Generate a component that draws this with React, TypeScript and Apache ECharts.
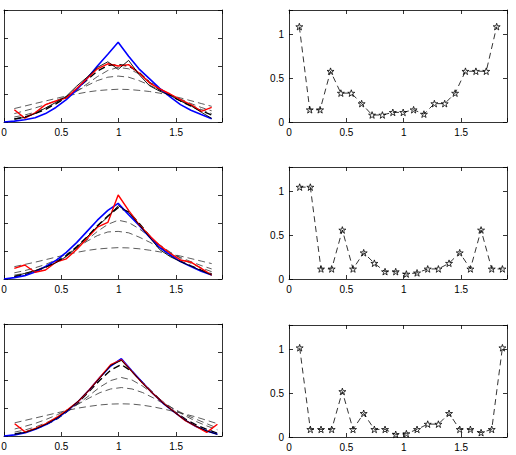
import React, { useEffect, useRef } from 'react';
import * as echarts from 'echarts';

// Interior nodes (two mesh spacings) and the same nodes with the left boundary.
const nodesA = [0.090, 0.181, 0.271, 0.362, 0.452, 0.543, 0.633, 0.724, 0.814, 0.905, 0.995, 1.086, 1.176, 1.267, 1.357, 1.448, 1.538, 1.629, 1.719, 1.810];
const nodesA0 = [0, ...nodesA];
const nodesB = [0.093, 0.186, 0.279, 0.372, 0.465, 0.558, 0.651, 0.744, 0.837, 0.930, 1.023, 1.116, 1.209, 1.302, 1.395, 1.488, 1.581, 1.674, 1.767, 1.860];
const nodesB0 = [0, ...nodesB];

const xTicks = [0, 0.5, 1, 1.5];
const errTicks = [0, 0.5, 1];

// Row 1
const exact1 = [0, 0.03, 0.08, 0.15, 0.3, 0.52, 0.8, 1.15, 1.55, 2.0, 2.42, 2.85, 2.35, 1.9, 1.55, 1.2, 0.9, 0.62, 0.42, 0.27, 0.12];
const final1 = [0.44, 0.14, 0.33, 0.62, 0.75, 0.86, 1.2, 1.55, 1.9, 2.08, 2.0, 2.05, 1.75, 1.4, 1.18, 1.0, 0.8, 0.62, 0.38, 0.52];
const iterate1 = [0.12, 0.16, 0.3, 0.5, 0.7, 0.92, 1.28, 1.6, 1.95, 2.15, 1.88, 2.2, 1.7, 1.3, 1.1, 0.95, 0.75, 0.58, 0.35, 0.13];
const stepA1 = [0.48, 0.57, 0.66, 0.75, 0.84, 0.93, 1.0, 1.07, 1.12, 1.15, 1.17, 1.16, 1.13, 1.09, 1.03, 0.95, 0.86, 0.76, 0.66, 0.56];
const stepB1 = [0.3, 0.4, 0.5, 0.62, 0.76, 0.92, 1.1, 1.3, 1.48, 1.6, 1.64, 1.6, 1.48, 1.32, 1.14, 0.97, 0.82, 0.66, 0.52, 0.4];
const stepC1 = [0.18, 0.25, 0.35, 0.5, 0.66, 0.86, 1.1, 1.36, 1.62, 1.84, 1.95, 1.9, 1.72, 1.46, 1.2, 0.98, 0.78, 0.6, 0.45, 0.3];
const stepD1 = [0.1, 0.18, 0.3, 0.45, 0.65, 0.88, 1.18, 1.5, 1.82, 2.02, 2.05, 2.0, 1.78, 1.42, 1.15, 0.95, 0.75, 0.57, 0.4, 0.25];
const error1 = [1.09, 0.14, 0.14, 0.58, 0.33, 0.33, 0.21, 0.08, 0.08, 0.11, 0.11, 0.14, 0.09, 0.21, 0.21, 0.33, 0.58, 0.58, 0.58, 1.09];

// Row 2
const exact2 = [0, 0.05, 0.12, 0.25, 0.45, 0.66, 0.95, 1.3, 1.7, 2.1, 2.45, 2.7, 2.3, 1.92, 1.5, 1.12, 0.86, 0.62, 0.45, 0.28, 0.14];
const final2 = [0.38, 0.5, 0.24, 0.32, 0.6, 0.72, 1.05, 1.45, 1.85, 2.02, 3.0, 2.45, 1.95, 1.55, 1.2, 0.92, 0.68, 0.6, 0.38, 0.14];
const iterate2 = [0.1, 0.2, 0.3, 0.42, 0.58, 0.8, 1.12, 1.5, 1.88, 2.22, 2.62, 2.38, 1.95, 1.5, 1.05, 0.8, 0.62, 0.46, 0.3, 0.14];
const stepA2 = [0.44, 0.52, 0.6, 0.69, 0.78, 0.87, 0.95, 1.02, 1.07, 1.1, 1.12, 1.11, 1.08, 1.03, 0.97, 0.9, 0.82, 0.73, 0.64, 0.55];
const stepB2 = [0.22, 0.3, 0.4, 0.52, 0.68, 0.88, 1.1, 1.35, 1.55, 1.68, 1.7, 1.65, 1.5, 1.32, 1.12, 0.94, 0.77, 0.62, 0.48, 0.36];
const stepC2 = [0.14, 0.2, 0.3, 0.45, 0.62, 0.84, 1.1, 1.4, 1.7, 1.95, 2.1, 2.02, 1.8, 1.52, 1.22, 0.96, 0.74, 0.56, 0.4, 0.26];
const stepD2 = [0.08, 0.15, 0.26, 0.42, 0.6, 0.84, 1.15, 1.5, 1.9, 2.25, 2.55, 2.4, 2.0, 1.55, 1.15, 0.85, 0.64, 0.47, 0.32, 0.18];
const error2 = [1.05, 1.05, 0.115, 0.115, 0.56, 0.115, 0.3, 0.18, 0.084, 0.084, 0.057, 0.07, 0.115, 0.115, 0.18, 0.3, 0.115, 0.56, 0.115, 0.115];

// Row 3
const exact3 = [0, 0.04, 0.12, 0.25, 0.42, 0.64, 0.92, 1.25, 1.65, 2.1, 2.5, 2.76, 2.32, 1.9, 1.5, 1.14, 0.84, 0.56, 0.34, 0.18, 0.06];
const final3 = [0.44, 0.14, 0.28, 0.45, 0.68, 0.95, 1.25, 1.65, 2.1, 2.55, 2.72, 2.3, 1.88, 1.5, 1.15, 0.85, 0.55, 0.34, 0.13, 0.42];
const iterate3 = [0.06, 0.13, 0.26, 0.43, 0.65, 0.93, 1.26, 1.65, 2.08, 2.52, 2.7, 2.3, 1.88, 1.5, 1.14, 0.84, 0.56, 0.35, 0.18, 0.06];
const stepA3 = [0.47, 0.56, 0.65, 0.74, 0.83, 0.92, 1.0, 1.06, 1.11, 1.14, 1.15, 1.14, 1.1, 1.04, 0.96, 0.87, 0.78, 0.68, 0.56, 0.44];
const stepB3 = [0.25, 0.35, 0.46, 0.6, 0.76, 0.95, 1.15, 1.36, 1.55, 1.68, 1.73, 1.68, 1.55, 1.36, 1.15, 0.95, 0.76, 0.6, 0.44, 0.28];
const stepC3 = [0.14, 0.22, 0.33, 0.48, 0.66, 0.9, 1.16, 1.45, 1.75, 1.98, 2.09, 2.0, 1.78, 1.5, 1.2, 0.94, 0.72, 0.52, 0.36, 0.22];
const stepD3 = [0.07, 0.14, 0.26, 0.42, 0.62, 0.9, 1.22, 1.6, 2.0, 2.35, 2.55, 2.3, 1.9, 1.52, 1.16, 0.86, 0.6, 0.4, 0.24, 0.1];
const error3 = [1.02, 0.087, 0.087, 0.087, 0.52, 0.087, 0.27, 0.087, 0.087, 0.03, 0.038, 0.087, 0.147, 0.147, 0.27, 0.087, 0.087, 0.05, 0.087, 1.02];

const STAR = 'path://M50,2 L61,36 L97,36 L68,57 L79,92 L50,71 L21,92 L32,57 L3,36 L39,36 Z';
const FONT = 'Liberation Sans';

const pair = (xs: number[], ys: number[]) => ys.map((y, i) => [xs[i], y]);

const onTick = (ticks: number[]) => (v: number) =>
  ticks.some((t) => Math.abs(t - v) < 1e-9) ? String(v) : '';

const line = { show: true, onZero: false, lineStyle: { color: '#000', width: 0.8 } };
const tick = { show: true, inside: true, length: 4, lineStyle: { color: '#000', width: 0.8 } };
const label = { color: '#000', fontFamily: FONT, fontSize: 10 };

function buildOption() {
  const rows = [10, 167, 324];
  const grids: any[] = [];
  const xAxes: any[] = [];
  const yAxes: any[] = [];
  const series: any[] = [];

  const addPanel = (left: number, top: number, yMax: number, yInterval: number, yLabels: boolean) => {
    const g = grids.length;
    grids.push({ left, top, width: 218, height: 112, containLabel: false, outerBoundsMode: 'none' });
    const xBase = { type: 'value', gridIndex: g, min: 0, max: 1.9, interval: 0.5, splitLine: { show: false }, axisLine: line, axisTick: tick };
    xAxes.push({ ...xBase, position: 'bottom', axisLabel: { ...label, margin: 5, formatter: onTick(xTicks) } });
    xAxes.push({ ...xBase, position: 'top', axisLabel: { show: false } });
    const yBase = { type: 'value', gridIndex: g, min: 0, max: yMax, interval: yInterval, splitLine: { show: false }, axisLine: line, axisTick: tick };
    yAxes.push({ ...yBase, position: 'left', axisLabel: yLabels ? { ...label, margin: 5, formatter: onTick(errTicks) } : { show: false } });
    yAxes.push({ ...yBase, position: 'right', axisLabel: { show: false } });
    return 2 * g;
  };

  const curve = (ax: number, data: number[][], color: string, width: number, type: any, z: number) => ({
    type: 'line', xAxisIndex: ax, yAxisIndex: ax, data, symbol: 'none', showSymbol: false, silent: true, z,
    lineStyle: { color, width, type },
  });

  const solutions = [
    { nodes: nodesA, nodes0: nodesA0, exact: exact1, final: final1, iterate: iterate1, steps: [stepA1, stepB1, stepC1], last: stepD1 },
    { nodes: nodesA, nodes0: nodesA0, exact: exact2, final: final2, iterate: iterate2, steps: [stepA2, stepB2, stepC2], last: stepD2 },
    { nodes: nodesB, nodes0: nodesB0, exact: exact3, final: final3, iterate: iterate3, steps: [stepA3, stepB3, stepC3], last: stepD3 },
  ];
  const errors = [
    { nodes: nodesA, err: error1 },
    { nodes: nodesB, err: error2 },
    { nodes: nodesB, err: error3 },
  ];

  rows.forEach((top, r) => {
    const s = solutions[r];
    const a = addPanel(4, top, 4, 1, false);
    s.steps.forEach((st) => series.push(curve(a, pair(s.nodes, st), '#333', 0.8, [7, 4], 2)));
    series.push(curve(a, pair(s.nodes, s.last), '#000', 1.4, [7, 4], 3));
    series.push(curve(a, pair(s.nodes0, s.exact), '#0000ff', 1.6, 'solid', 4));
    series.push(curve(a, pair(s.nodes, s.final), '#ff0000', 1.4, 'solid', 5));
    series.push(curve(a, pair(s.nodes, s.iterate), '#000', 0.9, 'solid', 6));

    const e = errors[r];
    const b = addPanel(289, top + (r === 2 ? 1 : 0), 1.28, 0.5, true);
    series.push({
      type: 'line', xAxisIndex: b, yAxisIndex: b, data: pair(e.nodes, e.err), silent: true, z: 3,
      symbol: STAR, symbolSize: 7, showSymbol: true, symbolKeepAspect: true,
      lineStyle: { color: '#000', width: 0.8, type: [6, 4] },
      itemStyle: { color: 'rgba(255,255,255,0)', borderColor: '#000', borderWidth: 0.8 },
    });
  });

  return { animation: false, backgroundColor: '#fff', grid: grids, xAxis: xAxes, yAxis: yAxes, series };
}

export default function App() {
  const ref = useRef<HTMLDivElement>(null);
  useEffect(() => {
    if (!ref.current) return;
    const chart = echarts.init(ref.current, null, { renderer: 'svg' });
    chart.setOption(buildOption() as any);
    return () => chart.dispose();
  }, []);
  return <div ref={ref} style={{ position: 'absolute', left: 0, top: 0, width: 516, height: 455 }} />;
}
